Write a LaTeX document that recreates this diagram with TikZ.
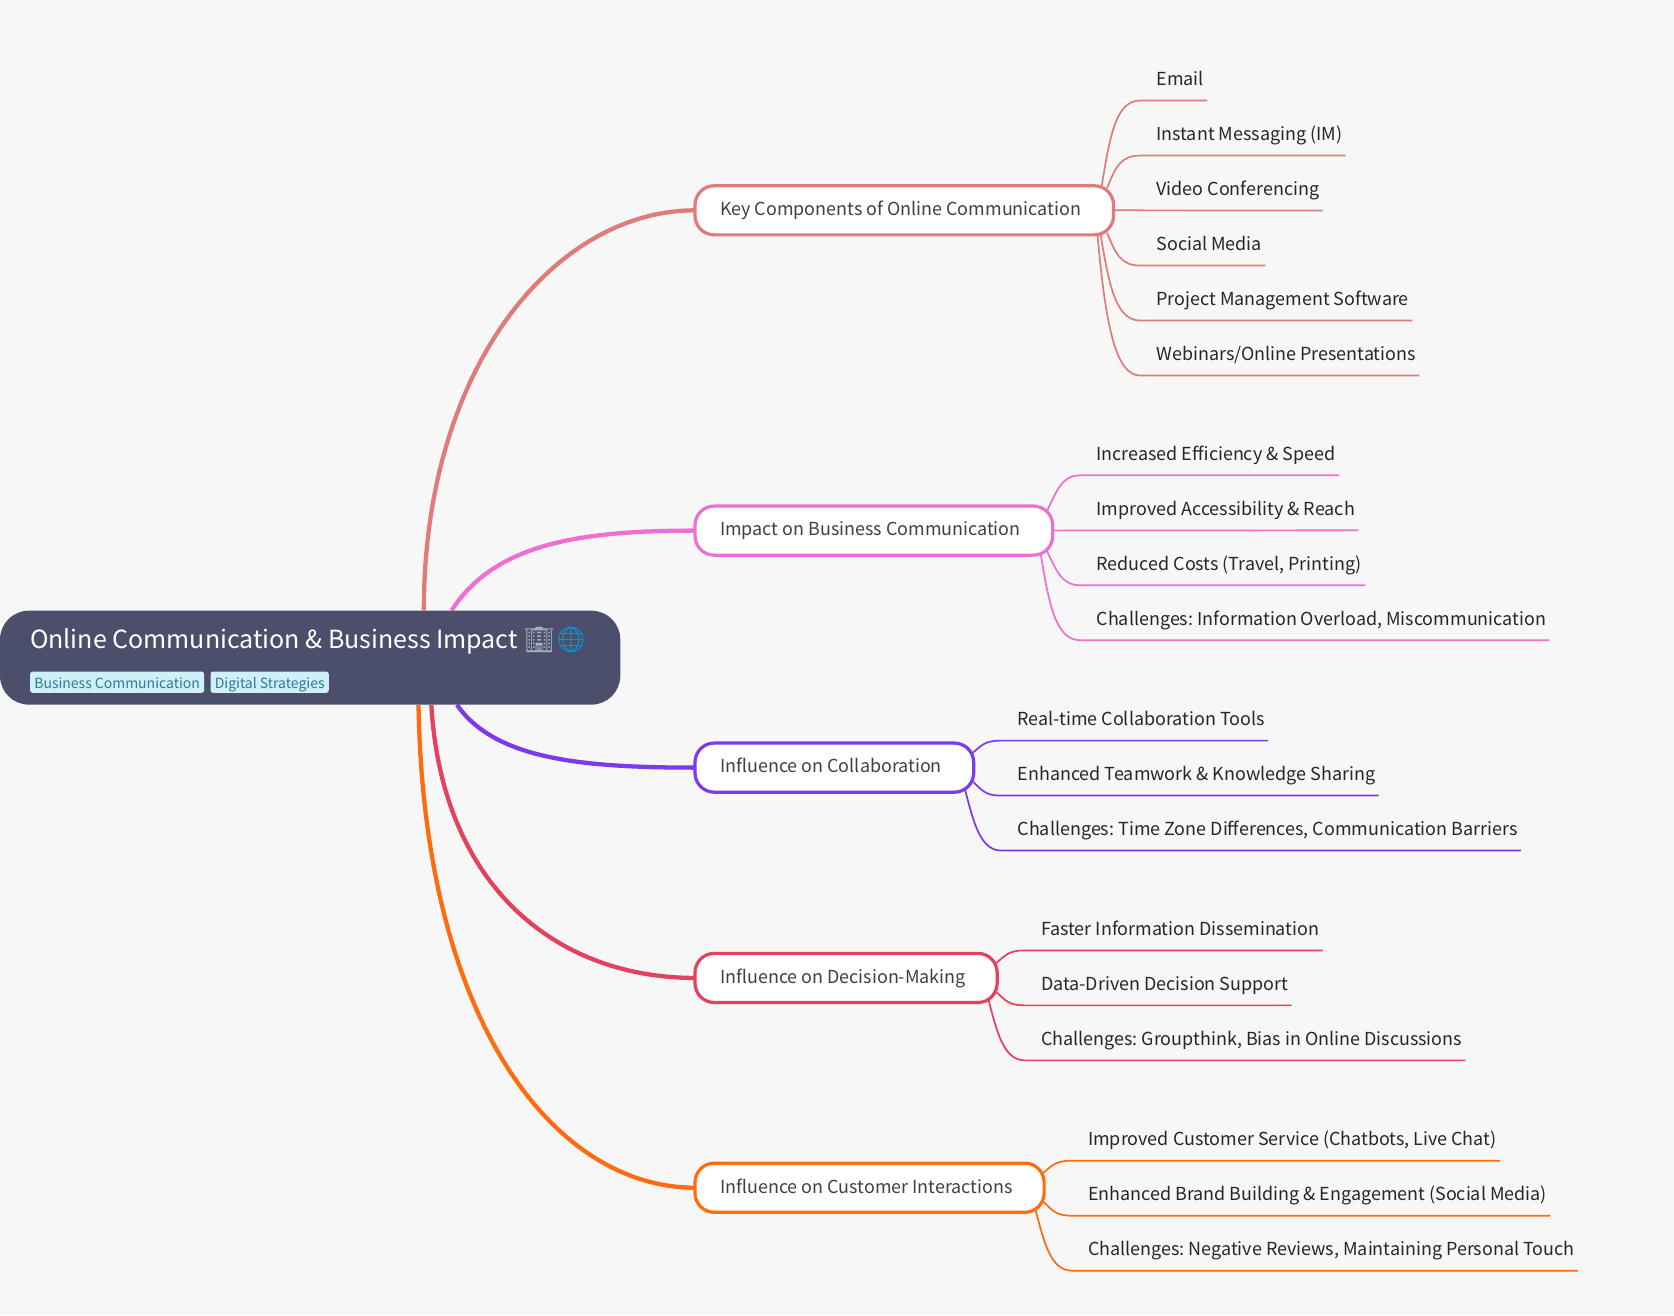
\documentclass[tikz,border=0pt]{standalone}
\usepackage{fontspec}
\setmainfont{Noto Sans CJK SC}
\newfontfamily\emojifont{Noto Emoji}
\frenchspacing
\definecolor{paper}{HTML}{F7F7F7}
\definecolor{rootbg}{HTML}{4C4F6B}
\definecolor{tagbg}{HTML}{CFF0F8}
\definecolor{tagtx}{HTML}{2F7A8E}
\definecolor{ckey}{HTML}{E07B7B}
\definecolor{cimp}{HTML}{EC6FD1}
\definecolor{ccol}{HTML}{7C3AED}
\definecolor{cdec}{HTML}{E5405E}
\definecolor{ccus}{HTML}{FF6B0F}
\definecolor{cbuild}{HTML}{9FB4BC}
\definecolor{cglobe}{HTML}{039BE5}
\pgfdeclarelayer{bg}
\pgfdeclarelayer{links}
\pgfsetlayers{bg,links,main}
\tikzset{
  rootbox/.style={fill=rootbg,rounded corners=27pt,minimum width=581pt,minimum height=88pt,inner sep=0pt},
  title/.style={anchor=base west,inner sep=0pt,text=white,font=\fontsize{23.4}{28}\selectfont},
  tagbox/.style={anchor=west,fill=tagbg,rounded corners=2.5pt,inner xsep=4pt,inner ysep=0pt,minimum height=20pt,text height=12pt,text depth=1pt,text=tagtx,font=\fontsize{13.1}{16}\selectfont},
  branch/.style={anchor=west,draw=#1,fill=white,line width=3pt,outer sep=0pt,rounded corners=18pt,inner xsep=23.5pt,inner ysep=0pt,minimum height=46pt,text height=15pt,text depth=5pt,align=flush left,text=black!75,font=\fontsize{16.8}{20}\selectfont},
  leaf/.style={anchor=base west,inner xsep=3pt,inner ysep=0pt,text height=14pt,text depth=14pt,text=black!85,font=\fontsize{16.8}{20}\selectfont},
  trunk/.style={draw=#1,line width=4pt},
  twig/.style={draw=#1,line width=1.6pt}
}

\begin{document}
\begin{tikzpicture}[x=1pt,y=-1pt]
      \begin{pgfonlayer}{bg}
        \fill[paper] (0,0) rectangle (1568,1232);
      \end{pgfonlayer}
      \useasboundingbox (0,0) rectangle (1568,1232);

      \node[rootbox] (root) at (290.5,616) {};
      \node[title] (head) at (28,607.5) {Online Communication \& Business Impact {\emojifont\textcolor{cbuild}{🏢}\textcolor{cglobe}{🌐}}};
      \node[tagbox] (tagA) at (28,639) {Business Communication};
      \node[tagbox] (tagB) at (197,639) {Digital Strategies};

      \node[branch=ckey,text width=345pt] (key) at (651,197) {Key Components of Online Communication};
      \node[branch=cimp,text width=288pt] (imp) at (651,497) {Impact on Business Communication};
      \node[branch=ccol,text width=214pt] (col) at (651,719) {Influence on Collaboration};
      \node[branch=cdec,text width=236pt] (dec) at (651,916) {Influence on Decision-Making};
      \node[branch=ccus,text width=280pt] (cus) at (651,1112.5) {Influence on Customer Interactions};

      \node[leaf] (k1) at (1080,80) {Email};
      \node[leaf] (k2) at (1080,131.5) {Instant Messaging (IM)};
      \node[leaf] (k3) at (1080,183) {Video Conferencing};
      \node[leaf] (k4) at (1080,234.5) {Social Media};
      \node[leaf] (k5) at (1080,286) {Project Management Software};
      \node[leaf] (k6) at (1080,337.5) {Webinars/Online Presentations};

      \node[leaf] (i1) at (1024,431) {Increased Efficiency \& Speed};
      \node[leaf] (i2) at (1024,482.5) {Improved Accessibility \& Reach};
      \node[leaf] (i3) at (1024,534) {Reduced Costs (Travel, Printing)};
      \node[leaf] (i4) at (1024,585.5) {Challenges: Information Overload, Miscommunication};

      \node[leaf] (c1) at (950,679.5) {Real-time Collaboration Tools};
      \node[leaf] (c2) at (950,731) {Enhanced Teamwork \& Knowledge Sharing};
      \node[leaf] (c3) at (950,782.5) {Challenges: Time Zone Differences, Communication Barriers};

      \node[leaf] (d1) at (972,876) {Faster Information Dissemination};
      \node[leaf] (d2) at (972,927.5) {Data-Driven Decision Support};
      \node[leaf] (d3) at (972,979) {Challenges: Groupthink, Bias in Online Discussions};

      \node[leaf] (u1) at (1016,1073) {Improved Customer Service (Chatbots, Live Chat)};
      \node[leaf] (u2) at (1016,1124.5) {Enhanced Brand Building \& Engagement (Social Media)};
      \node[leaf] (u3) at (1016,1176) {Challenges: Negative Reviews, Maintaining Personal Touch};

      \begin{pgfonlayer}{links}
        \draw[trunk=ckey] ([xshift=106.5pt]root.north) .. controls +(0,-230) and +(-130,0) .. (key.west);
        \draw[trunk=cimp] ([xshift=132.5pt]root.north) .. controls +(40,-62) and +(-110,0) .. (imp.west);
        \draw[trunk=ccol] ([xshift=137.5pt]root.south) .. controls +(35,50) and +(-110,0) .. (col.west);
        \draw[trunk=cdec] ([xshift=113.5pt]root.south) .. controls +(10,170) and +(-130,0) .. (dec.west);
        \draw[trunk=ccus] ([xshift=101.5pt]root.south) .. controls +(5,300) and +(-130,0) .. (cus.west);

        \draw[twig=ckey] ([xshift=-11pt]key.north east) .. controls +(8,-50) and +(-22,0) .. ([xshift=-12pt]k1.south west) -- (k1.south east);
        \draw[twig=ckey] ([shift={(-6,2)}]key.north east) .. controls +(8,-20) and +(-18,0) .. ([xshift=-12pt]k2.south west) -- (k2.south east);
        \draw[twig=ckey] (key.east) -- (k3.south east);
        \draw[twig=ckey] ([shift={(-6,-2)}]key.south east) .. controls +(8,20) and +(-18,0) .. ([xshift=-12pt]k4.south west) -- (k4.south east);
        \draw[twig=ckey] ([xshift=-12pt]key.south east) .. controls +(8,50) and +(-22,0) .. ([xshift=-12pt]k5.south west) -- (k5.south east);
        \draw[twig=ckey] ([xshift=-15pt]key.south east) .. controls +(8,90) and +(-22,0) .. ([xshift=-12pt]k6.south west) -- (k6.south east);

        \draw[twig=cimp] ([shift={(-6,6)}]imp.north east) .. controls +(10,-20) and +(-18,0) .. ([xshift=-12pt]i1.south west) -- (i1.south east);
        \draw[twig=cimp] (imp.east) -- (i2.south east);
        \draw[twig=cimp] ([shift={(-6,-5)}]imp.south east) .. controls +(10,20) and +(-18,0) .. ([xshift=-12pt]i3.south west) -- (i3.south east);
        \draw[twig=cimp] ([xshift=-11pt]imp.south east) .. controls +(8,50) and +(-22,0) .. ([xshift=-12pt]i4.south west) -- (i4.south east);

        \draw[twig=ccol] ([shift={(-2,10)}]col.north east) .. controls +(10,-8) and +(-16,0) .. ([xshift=-12pt]c1.south west) -- (c1.south east);
        \draw[twig=ccol] ([shift={(-2,-11)}]col.south east) .. controls +(10,9) and +(-16,0) .. ([xshift=-12pt]c2.south west) -- (c2.south east);
        \draw[twig=ccol] ([shift={(-8,-2)}]col.south east) .. controls +(8,30) and +(-20,0) .. ([xshift=-12pt]c3.south west) -- (c3.south east);

        \draw[twig=cdec] ([shift={(-2,10)}]dec.north east) .. controls +(10,-8) and +(-16,0) .. ([xshift=-12pt]d1.south west) -- (d1.south east);
        \draw[twig=cdec] ([shift={(-2,-11)}]dec.south east) .. controls +(10,9) and +(-16,0) .. ([xshift=-12pt]d2.south west) -- (d2.south east);
        \draw[twig=cdec] ([shift={(-8,-2)}]dec.south east) .. controls +(8,30) and +(-20,0) .. ([xshift=-12pt]d3.south west) -- (d3.south east);

        \draw[twig=ccus] ([shift={(-2,10)}]cus.north east) .. controls +(10,-8) and +(-16,0) .. ([xshift=-12pt]u1.south west) -- (u1.south east);
        \draw[twig=ccus] ([shift={(-2,-11)}]cus.south east) .. controls +(10,9) and +(-16,0) .. ([xshift=-12pt]u2.south west) -- (u2.south east);
        \draw[twig=ccus] ([shift={(-8,-2)}]cus.south east) .. controls +(8,30) and +(-20,0) .. ([xshift=-12pt]u3.south west) -- (u3.south east);
      \end{pgfonlayer}
    \end{tikzpicture}
\end{document}
